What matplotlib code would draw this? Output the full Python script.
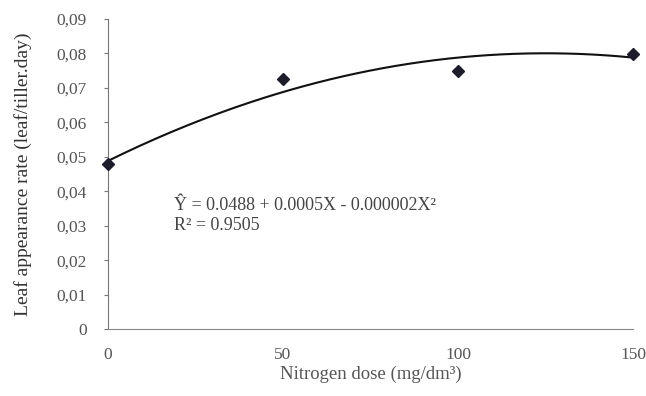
import numpy as np
import matplotlib.pyplot as plt
from matplotlib.ticker import FuncFormatter

plt.rcParams['font.family'] = ['Liberation Serif', 'DejaVu Serif']

# Observed means
dose = [0, 50, 100, 150]
rate = [0.0478, 0.0725, 0.0748, 0.0798]

# Regression coefficients shown on the chart
b0, b1, b2 = 0.0488, 0.0005, -0.000002
r2 = 0.9505

xticks = [0, 50, 100, 150]
yticks = [0, 0.01, 0.02, 0.03, 0.04, 0.05, 0.06, 0.07, 0.08, 0.09]

fig = plt.figure(figsize=(6.46, 3.96), dpi=100)
ax = fig.add_axes([0.167, 0.169, 0.813, 0.783])

xs = np.linspace(0, 150, 200)
ax.plot(xs, b0 + b1 * xs + b2 * xs ** 2, color='#111111', lw=1.5, zorder=2)
ax.plot(dose, rate, 'D', color='#1c1c2a', ms=6, zorder=3, clip_on=False)

ax.set_xlim(0, 150)
ax.set_ylim(0, 0.09)
ax.set_xticks(xticks)
ax.set_yticks(yticks)

def comma(v, pos):
    if v == 0:
        return '0'
    return ('%.2f' % v).replace('.', ',')

ax.yaxis.set_major_formatter(FuncFormatter(comma))

for s in ['top', 'right']:
    ax.spines[s].set_visible(False)
ax.spines['left'].set_color('#777777')
ax.spines['bottom'].set_color('#888888')
ax.spines['bottom'].set_linestyle((0, (1, 1)))
ax.tick_params(axis='y', direction='out', length=3, color='#777777', pad=12,
               labelsize=12.5, labelcolor='#555555')
ax.tick_params(axis='x', length=0, pad=13, labelsize=12.5, labelcolor='#555555')

ax.set_xlabel('Nitrogen dose (mg/dm³)', fontsize=13.5, color='#555555', labelpad=2)
ax.set_ylabel('Leaf appearance rate (leaf/tiller.day)', fontsize=14, color='#333333', labelpad=18)

ax.text(19, 0.0345, 'Ŷ = 0.0488 + 0.0005X - 0.000002X²', fontsize=13, color='#444444')
ax.text(19, 0.0288, 'R² = 0.9505', fontsize=13, color='#444444')

fig.savefig('out.png', dpi=100)
